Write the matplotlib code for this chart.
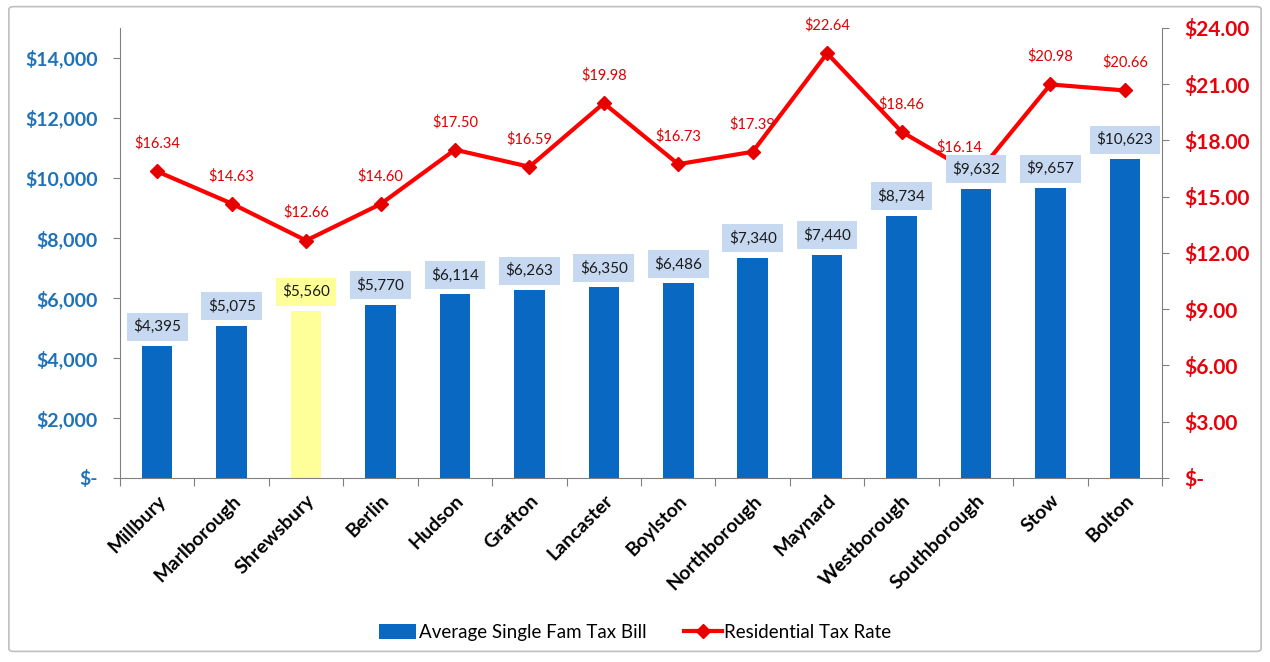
import matplotlib.pyplot as plt
from matplotlib.patches import FancyBboxPatch
from matplotlib.lines import Line2D
from matplotlib.patches import Patch

plt.rcParams['font.family'] = ['Lato', 'DejaVu Sans']

towns = ['Millbury', 'Marlborough', 'Shrewsbury', 'Berlin', 'Hudson', 'Grafton',
         'Lancaster', 'Boylston', 'Northborough', 'Maynard', 'Westborough',
         'Southborough', 'Stow', 'Bolton']
tax_bill = [4395, 5075, 5560, 5770, 6114, 6263, 6350, 6486, 7340, 7440, 8734,
            9632, 9657, 10623]
tax_rate = [16.34, 14.63, 12.66, 14.60, 17.50, 16.59, 19.98, 16.73, 17.39, 22.64,
            18.46, 16.14, 20.98, 20.66]
highlight = 'Shrewsbury'

BLUE = '#0868c2'
YELLOW = '#ffff99'
RED = '#ff0000'
LABEL_BOX = '#c6d9f1'
AXIS_BLUE = '#1f72b8'
AXIS_RED = '#e8000b'

fig = plt.figure(figsize=(12.7, 6.62), dpi=100)

# light frame around the chart area
frame = FancyBboxPatch((0.007, 0.016), 0.986, 0.974, boxstyle='round,pad=0,rounding_size=0.004',
                       transform=fig.transFigure, facecolor='none', edgecolor='#bfbfbf',
                       linewidth=1.2, zorder=-1)
fig.patches.append(frame)

ax = fig.add_axes([0.0945, 0.278, 0.8205, 0.68])
ax2 = ax.twinx()
# bars (and their value boxes) sit above the rate line
ax.set_zorder(ax2.get_zorder() + 1)
ax.patch.set_visible(False)

x = list(range(len(towns)))
colors = [YELLOW if t == highlight else BLUE for t in towns]
ax.bar(x, tax_bill, width=0.41, color=colors, zorder=2)

for xi, v, t in zip(x, tax_bill, towns):
    box = YELLOW if t == highlight else LABEL_BOX
    ax.annotate(f'${v:,}', (xi, v), xytext=(0, 14), textcoords='offset points',
                ha='center', va='center', fontsize=11, color='#1a1a1a', zorder=5,
                bbox=dict(boxstyle='square,pad=0.42', facecolor=box, edgecolor='none'))

ax2.plot(x, tax_rate, color=RED, linewidth=3, marker='D', markersize=7.5,
         markerfacecolor='#e60000', markeredgecolor='#e60000', zorder=3)
for xi, r, t in zip(x, tax_rate, towns):
    # Southborough's rate label is pushed left so the bill box doesn't hide it
    dx = -12 if t == 'Southborough' else 0
    ax2.annotate(f'${r:.2f}', (xi, r), xytext=(dx, 20), textcoords='offset points',
                 ha='center', va='center', fontsize=10.5, color='#e00000')

ax.set_xlim(-0.5, len(towns) - 0.5)
ax.set_ylim(0, 15000)
ax2.set_ylim(0, 24)

left_ticks = list(range(0, 14001, 2000))
ax.set_yticks(left_ticks)
ax.set_yticklabels(['$-' if v == 0 else f'${v:,}' for v in left_ticks],
                   fontsize=14, fontweight='bold', color=AXIS_BLUE)
right_ticks = [0, 3, 6, 9, 12, 15, 18, 21, 24]
ax2.set_yticks(right_ticks)
ax2.set_yticklabels(['$-' if v == 0 else f'${v:.2f}' for v in right_ticks],
                    fontsize=15, fontweight='bold', color=AXIS_RED)

# category ticks fall between the bars
ax.set_xticks([i - 0.5 for i in range(len(towns) + 1)])
ax.set_xticklabels([])
ax.set_xticks(x, minor=True)
ax.set_xticklabels(towns, minor=True, rotation=45, ha='right', rotation_mode='anchor',
                   fontsize=14, fontweight='bold')
ax.tick_params(axis='x', which='minor', length=0, pad=10)
ax.tick_params(axis='x', which='major', length=6, color='#808080', direction='out')
ax.tick_params(axis='y', length=5, color='#808080', pad=11)
ax2.tick_params(axis='y', length=5, color='#808080', pad=11)

for a in (ax, ax2):
    a.spines['top'].set_visible(False)
    for s in ('left', 'right', 'bottom'):
        a.spines[s].set_color('#808080')
ax.spines['right'].set_visible(False)
ax2.spines['left'].set_visible(False)
ax2.spines['bottom'].set_visible(False)

handles = [Patch(facecolor=BLUE, edgecolor='none'),
           Line2D([], [], color=RED, linewidth=3, marker='D', markersize=7,
                  markerfacecolor='#e60000', markeredgecolor='#e60000')]
fig.legend(handles, ['Average Single Fam Tax Bill', 'Residential Tax Rate'],
           loc='center', bbox_to_anchor=(0.5, 0.045), ncol=2, frameon=False,
           fontsize=13.5, handlelength=2.0, handleheight=0.9, handletextpad=0.15,
           columnspacing=2.0)

fig.savefig('out.png', dpi=100)
